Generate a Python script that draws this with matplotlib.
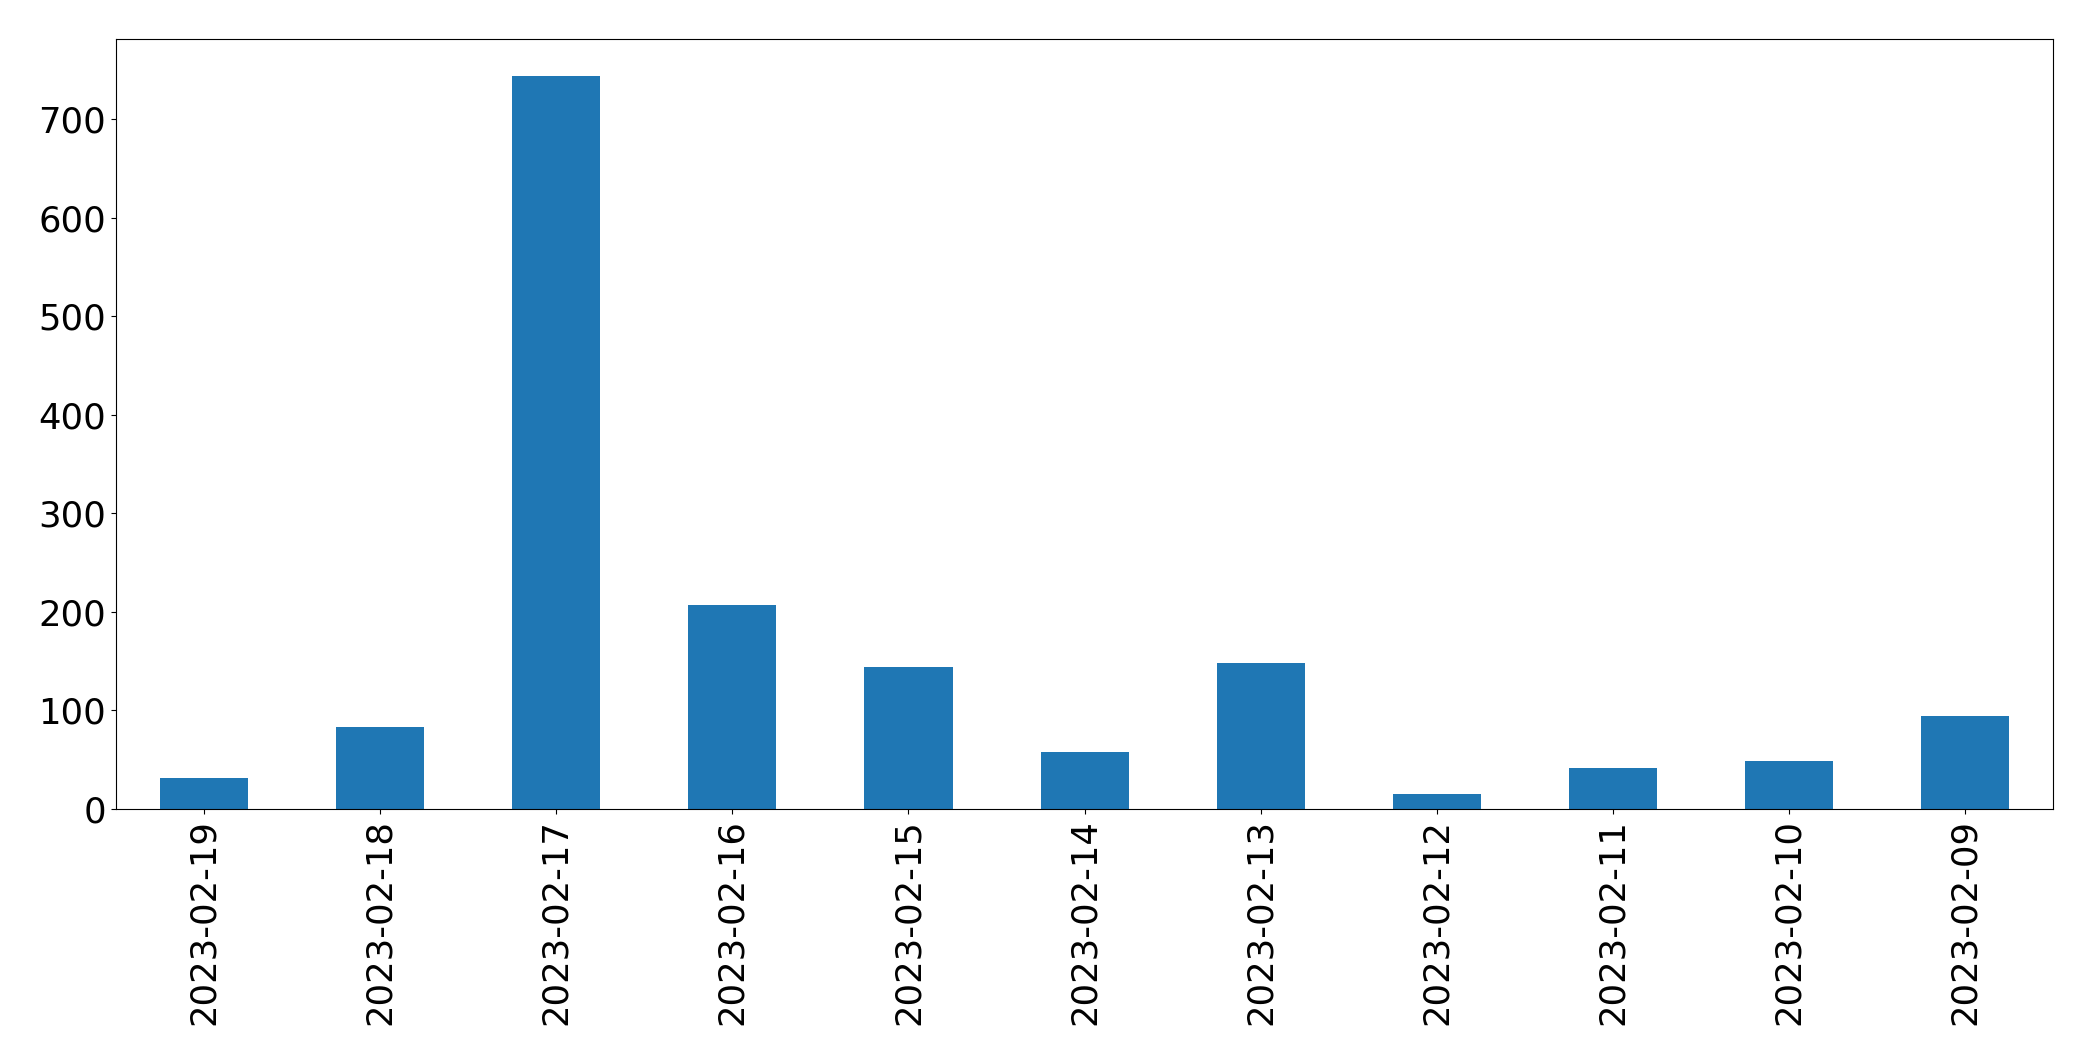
import matplotlib
matplotlib.use('Agg')
import matplotlib.pyplot as plt
import numpy as np

dates = ['2023-02-19', '2023-02-18', '2023-02-17', '2023-02-16', '2023-02-15',
         '2023-02-14', '2023-02-13', '2023-02-12', '2023-02-11', '2023-02-10',
         '2023-02-09']
counts = [31, 83, 744, 207, 144, 58, 148, 15, 42, 49, 94]

fig, ax = plt.subplots(figsize=(20.93, 10.61), dpi=100)
x = np.arange(len(dates))
ax.bar(x, counts, width=0.5, color='#1f77b4')
ax.set_xlim(-0.5, len(dates) - 0.5)
ax.set_xticks(x)
ax.set_xticklabels(dates, rotation=90)
ax.tick_params(axis='both', labelsize=25.5)
for s in ax.spines.values():
    s.set_color('black')
plt.subplots_adjust(left=0.0554, right=0.981, top=0.963, bottom=0.2375)
fig.savefig('out.png')
